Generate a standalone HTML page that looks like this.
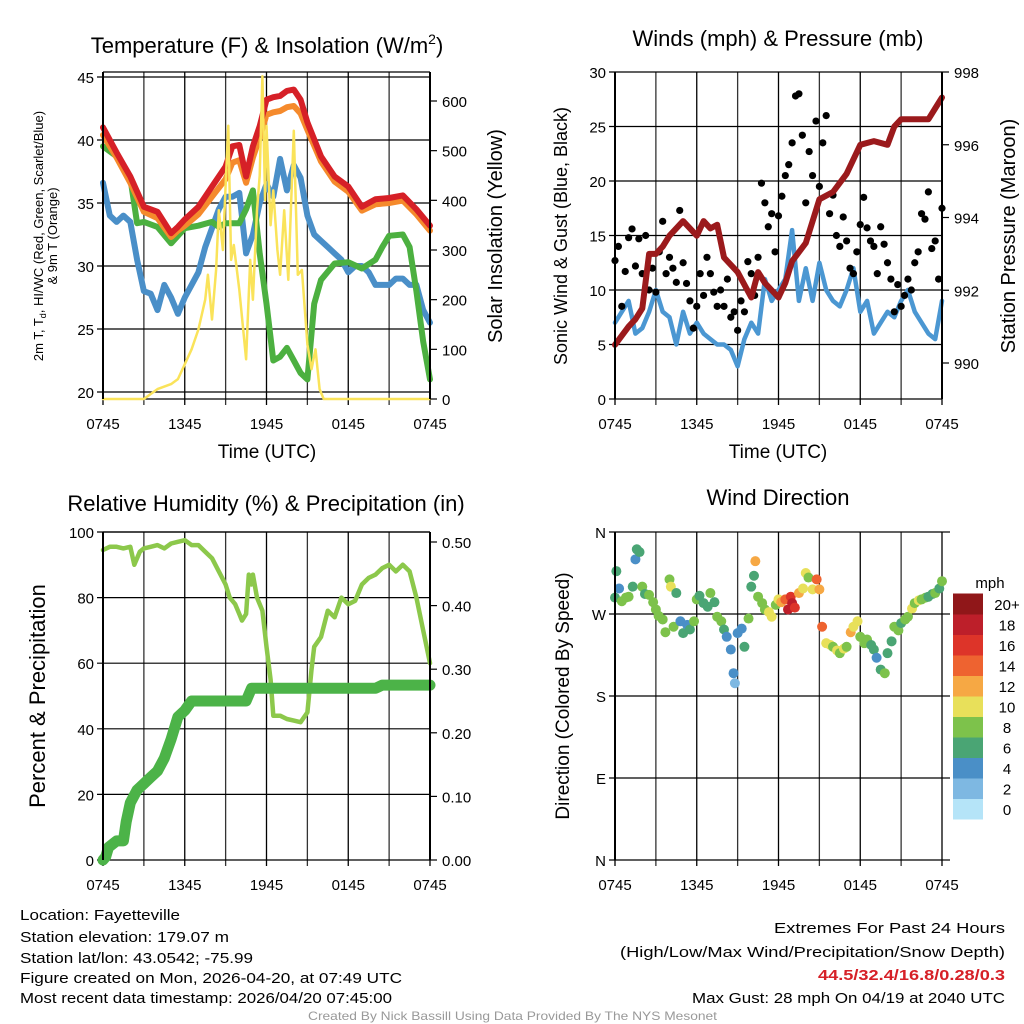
<!DOCTYPE html>
<html><head><meta charset="utf-8"><style>
html,body{margin:0;padding:0;background:#fff}
svg{display:block;font-family:"Liberation Sans",sans-serif}
</style></head><body>
<svg id="fig" width="1024" height="1024" viewBox="0 0 1024 1024" xmlns="http://www.w3.org/2000/svg">
<rect width="1024" height="1024" fill="#fff"/>
<g id="gridlayer"></g>
<g id="datalayer"></g>
<g id="axislayer"></g>
<text x="267" y="53" font-size="22" text-anchor="middle">Temperature (F) &amp; Insolation (W/m<tspan dy="-9" font-size="14">2</tspan><tspan dy="9">)</tspan></text>
<text x="778" y="46" font-size="22" text-anchor="middle">Winds (mph) &amp; Pressure (mb)</text>
<text x="266" y="511" font-size="22" text-anchor="middle">Relative Humidity (%) &amp; Precipitation (in)</text>
<text x="778" y="505" font-size="22" text-anchor="middle">Wind Direction</text>
<text x="267" y="458" font-size="19" text-anchor="middle">Time (UTC)</text>
<text x="778" y="458" font-size="19" text-anchor="middle">Time (UTC)</text>
<text transform="translate(43,236) rotate(-90)" font-size="13" text-anchor="middle">2m T, T<tspan dy="3" font-size="9">d</tspan><tspan dy="-3">, HI/WC (Red, Green, Scarlet/Blue)</tspan></text>
<text transform="translate(57,236) rotate(-90)" font-size="13" text-anchor="middle">&amp; 9m T (Orange)</text>
<text transform="translate(502,236) rotate(-90)" font-size="20" text-anchor="middle">Solar Insolation (Yellow)</text>
<text transform="translate(567,236) rotate(-90)" font-size="18" text-anchor="middle">Sonic Wind &amp; Gust (Blue, Black)</text>
<text transform="translate(1015,236) rotate(-90)" font-size="20" text-anchor="middle">Station Pressure (Maroon)</text>
<text transform="translate(45,696) rotate(-90)" font-size="22" text-anchor="middle">Percent &amp; Precipitation</text>
<text transform="translate(569,696) rotate(-90)" font-size="19" text-anchor="middle">Direction (Colored By Speed)</text>
<g font-size="15">
<text x="20" y="920" textLength="160" lengthAdjust="spacingAndGlyphs">Location: Fayetteville</text>
<text x="20" y="942" textLength="209" lengthAdjust="spacingAndGlyphs">Station elevation: 179.07 m</text>
<text x="20" y="963" textLength="233" lengthAdjust="spacingAndGlyphs">Station lat/lon: 43.0542; -75.99</text>
<text x="20" y="983" textLength="382" lengthAdjust="spacingAndGlyphs">Figure created on Mon, 2026-04-20, at 07:49 UTC</text>
<text x="20" y="1003" textLength="372" lengthAdjust="spacingAndGlyphs">Most recent data timestamp: 2026/04/20 07:45:00</text>
<text x="774" y="933" textLength="231" lengthAdjust="spacingAndGlyphs">Extremes For Past 24 Hours</text>
<text x="620" y="957" textLength="385" lengthAdjust="spacingAndGlyphs">(High/Low/Max Wind/Precipitation/Snow Depth)</text>
<text x="818" y="980" textLength="187" lengthAdjust="spacingAndGlyphs" fill="#d62027" font-weight="bold">44.5/32.4/16.8/0.28/0.3</text>
<text x="692" y="1003" textLength="313" lengthAdjust="spacingAndGlyphs">Max Gust: 28 mph On 04/19 at 2040 UTC</text>
</g>
<text x="308" y="1020" font-size="12" fill="#999" textLength="409" lengthAdjust="spacingAndGlyphs">Created By Nick Bassill Using Data Provided By The NYS Mesonet</text>
</svg>
<script>
// ---------- data ----------
const timeTicks = ["0745","1345","1945","0145","0745"];
const hoursHalf = [0,0.5,1,1.5,2,2.5,3,3.5,4,4.5,5,5.5,6,6.5,7,7.5,8,8.5,9,9.5,10,10.5,11,11.5,12,12.5,13,13.5,14,14.5,15,15.5,16,16.5,17,17.5,18,18.5,19,19.5,20,20.5,21,21.5,22,22.5,23,23.5,24];
const tempHours = [0,1,2,3,4,5,5.5,6,7,8,9,9.5,10,10.5,11,11.5,12,12.5,13,13.5,14,14.5,15,16,17,18,19,20,21,22,23,24];
const tempRed   = [41,39,37.1,34.7,34.3,32.6,33.1,33.7,34.7,36.3,37.9,39.5,39.6,37.1,39.5,41.1,43.2,43.4,43.5,43.9,44,43.2,41.4,38.7,37.1,36.3,34.7,35.3,35.4,35.6,34.5,33.2];
const tempOrange= [40.4,38.6,36.6,34.3,33.8,32.3,32.8,33.2,34.1,35.5,36.9,38.2,38.4,36.6,38.6,40.2,42,42.2,42.3,42.6,42.7,42.1,40.8,38.3,36.7,35.9,34.4,34.9,35,35.2,34.1,32.8];
const dewHours  = [0,1,2,2.5,3,4,5,6,7,8,8.5,9,10,10.5,11,11.5,12,12.5,13,13.5,14,14.5,15,15.5,16,17,18,19,20,20.5,21,22,22.5,23,23.5,24];
const dewGreen  = [39.5,38.7,37,33.4,33.5,33.1,31.8,33,33.2,33.5,33.1,33.4,33.4,34.5,36,31,27,22.5,22.8,23.5,22.5,21.5,21,27,28.9,30.2,30.3,29.8,30.5,31.5,32.4,32.5,31.5,28,24,21];
const chillBlue = [36.6,34,33.5,34,33.5,30.5,28,27.8,26.5,28.5,27.5,26.2,27.5,28.5,29.5,31.5,33,34.5,35.5,35.5,35.8,31,32.5,35,36.5,35.5,38.5,36,38,37,34,32.5,32,31.5,31,30.5,29.5,30,30,29.5,28.5,28.5,28.5,29,29,28.5,28.5,26.5,25.5];
const insolHours = [0,3,3.5,4,5,5.5,6,6.5,7,7.5,7.7,8,8.3,8.5,8.8,9,9.2,9.4,9.6,10,10.5,10.8,11,11.3,11.5,11.7,11.9,12,12.3,12.5,12.8,13,13.3,13.6,14,14.3,14.6,15,15.3,15.6,15.9,16.2,24];
const insolValues= [0,0,10,20,30,40,70,100,140,200,250,160,260,380,300,430,550,280,310,220,80,280,200,380,450,650,400,550,350,420,300,250,380,240,540,250,260,110,60,100,20,0,0];
const windBlue = [7,8,9,6,6.5,8,10,8,7.5,5,8,6,7,6,5.5,5,5,4.5,3,5.5,7,6,11,9,10,11,15.5,9,12,9,12.5,10,9,8.5,10,12,8,9,6,7,8,7.5,9,10,8,7,6,5.5,9];
const pressHours = [0,1,1.5,2,2.5,3,3.5,4,5,6,6.5,7,7.5,8,9,10,10.5,11,12,12.5,13,14,15,16,17,18,19,20,20.5,21,22,23,23.5,24];
const pressure   = [990.5,991,991.2,991.5,993,993,993.2,993.5,993.9,993.5,993.9,993.7,993.8,992.9,992.5,991.8,992.5,992.2,991.8,992.2,992.8,993.3,994.5,994.7,995.2,996,996.1,996,996.5,996.7,996.7,996.7,997,997.3];
const gustValues = [12.7,14,8.5,11.7,14.8,15.6,12.2,14.7,11.5,15,10,12,9.8,13.5,16.3,11.5,13,12,10.7,17.3,12.5,10.6,9,6.5,8.5,11.5,9.5,13,11.5,9.8,8.5,10,8.5,11,7.5,8,6.3,9,8,12.6,11.5,9.5,13,19.8,18,15.8,17,13.5,16.8,18.6,20.5,21.5,23.5,27.8,28,24.2,18,22.7,20.5,25.5,19.5,23.5,26,17,18.7,15,14,16.7,14.5,12,11.5,13.5,16,18.5,15.7,14.5,14,11.5,15.8,14.2,12.5,11,8,10.5,8.5,9.5,11,10,12.5,13.5,17,16.5,19,13.8,14.5,11,17.5];
const rhHours = [0,0.5,1,1.5,2,2.3,2.7,3,3.5,4,4.5,5,5.5,6,6.5,7,7.5,8,8.5,9,9.3,9.7,10,10.2,10.5,10.7,10.9,11,11.3,11.7,12,12.3,12.5,13,13.5,14,14.5,15,15.3,15.5,16,16.5,17,17.5,18,18.5,19,19.5,20,20.5,21,21.5,22,22.5,23,23.5,24];
const rhValues= [94.5,95.5,95.5,95,95.5,90,94,95,95.5,96,95,96.5,97,97.5,96,96,94,92,88,84,80,78,75,73,75,87,84,87,80,76,65,55,44,44,43,42.5,42,45,58,65,68,76,74,80,78,79,84,86,87,89,90,88,90,88,80,70,60];
const precipHours = [0,0.2,0.4,1,1.5,1.7,2,2.5,3,3.5,4,4.5,5,5.5,6,6.5,10.5,10.7,10.9,20,20.5,24];
const precipValues= [0,0.005,0.02,0.03,0.03,0.06,0.09,0.11,0.12,0.13,0.14,0.16,0.19,0.225,0.235,0.25,0.25,0.26,0.27,0.27,0.275,0.275];
const dirHours = [0,0.1,0.3,0.5,0.8,1,1.3,1.5,1.6,1.8,2,2.2,2.5,2.8,3,3.2,3.5,3.7,4,4.1,4.3,4.5,4.8,5,5.3,5.5,5.8,6,6.2,6.5,6.8,7,7.3,7.5,7.8,8,8.2,8.5,8.7,8.8,9,9.3,9.5,9.8,10,10.2,10.3,10.5,10.8,11,11.3,11.5,11.8,12,12.2,12.5,12.7,12.9,13,13.2,13.5,13.8,14,14.2,14.5,14.8,15,15.2,15.5,15.8,16,16.3,16.5,16.8,17,17.3,17.5,17.8,18,18.3,18.5,18.8,19,19.2,19.5,19.8,20,20.3,20.5,20.8,21,21.3,21.5,21.8,22,22.3,22.5,22.8,23,23.3,23.5,23.8,24];
const dirValues= [288,317,298,284,288,289,300,330,341,338,300,292,291,283,275,268,264,250,308,300,256,293,262,249,258,253,262,286,290,282,278,293,283,267,262,253,245,231,205,194,249,254,234,265,300,312,328,289,282,275,272,267,280,286,283,286,275,289,282,277,293,298,315,310,297,308,297,256,238,236,234,230,227,232,234,250,256,262,245,238,242,236,231,222,209,205,227,240,256,252,260,264,267,276,282,285,286,288,289,292,293,298,306];
const dirSpeeds= [6,6,4,7,8,7,6,4,6,6,8,6,7,7,8,8,8,8,8,9,7,5,4,5,4,6,7,8,6,6,5,7,6,8,7,6,4,3,3,1.5,4,4,6,7,6,6,12,8,7,8,9,9,8,10,11,13,17,16,18,15,12,10,10,8,9,13,11,13,9,9,8,10,8,9,8,12,10,9,8,7,7,6,6,4,6,7,6,6,8,8,6,7,8,9,8,10,7,8,6,6,7,6,7];
const cbLabels = ["0","2","4","6","8","10","12","14","16","18","20+"];
const cbColors = ["#b5e4f8","#7eb8e2","#4a8fc7","#4aa574","#7dc24b","#e8e05a","#f6a844","#ee6330","#dd3429","#bd1f2a","#901719"];

// ---------- helpers ----------
const NS="http://www.w3.org/2000/svg";
const grid=document.getElementById('gridlayer'), dl=document.getElementById('datalayer'), al=document.getElementById('axislayer');
function mk(tag,attrs,parent){const e=document.createElementNS(NS,tag);for(const k in attrs)e.setAttribute(k,attrs[k]);parent.appendChild(e);return e;}
function lin(d0,d1,r0,r1){return v=>r0+(v-d0)*(r1-r0)/(d1-d0);}
function pathD(xs,ys,fx,fy){return xs.map((x,i)=>(i?'L':'M')+fx(x).toFixed(1)+','+fy(ys[i]).toFixed(1)).join('');}

function panel(x0,x1,yTop,yBot,ticksY,fy,labelsY,rightTicks,fyR,labelsR,prefix,noRightBorder){
  const fx=lin(0,24,x0,x1);
  for(let h=0;h<=24;h+=3){const l=mk('line',{x1:fx(h),x2:fx(h),y1:yTop,y2:yBot+6,stroke:(h%6? '#333':'#000'),'stroke-width':1.3},grid);
    }
  ticksY.forEach((v,i)=>{const y=fy(v);const l=mk('line',{x1:x0-6,x2:x1,y1:y,y2:y,stroke:'#000','stroke-width':1.2},grid);
    
    const t=mk('text',{x:x0-9,y:y+6,'font-size':15,'text-anchor':'end'},al);t.textContent=labelsY[i];
    });
  if(rightTicks){rightTicks.forEach((v,i)=>{const y=fyR(v);mk('line',{x1:x1,x2:x1+7,y1:y,y2:y,stroke:'#000','stroke-width':1.2},al);
    const t=mk('text',{x:x1+12,y:y+6,'font-size':15},al);t.textContent=labelsR[i];
    });}
  const ax=mk('line',{x1:x0,x2:x0,y1:yTop,y2:yBot,stroke:'#000','stroke-width':2},al);
  
  if(!noRightBorder){const r=mk('line',{x1:x1,x2:x1,y1:yTop,y2:yBot,stroke:'#000','stroke-width':2},al);
    }
  timeTicks.forEach((s,i)=>{const t=mk('text',{x:fx(i*6),y:yBot+30,'font-size':15,'text-anchor':'middle'},al);t.textContent=s;
    });
  return fx;
}
function line(xs,ys,fx,fy,color,w,name){const p=mk('path',{d:pathD(xs,ys,fx,fy),fill:'none',stroke:color,'stroke-width':w,'stroke-linejoin':'round','stroke-linecap':'round'},dl);
  return p;}

// ---------- panel 1: temperature ----------
{const fy=lin(20,45,392,77), fyR=lin(0,600,399,101);
 const fx=panel(103,430,72,399,[20,25,30,35,40,45],fy,["20","25","30","35","40","45"],[0,100,200,300,400,500,600],fyR,["0","100","200","300","400","500","600"],'temp');
 mk('line',{x1:103,x2:430,y1:72,y2:72,stroke:'#000','stroke-width':1.2},grid);
 mk('line',{x1:103,x2:430,y1:399,y2:399,stroke:'#000','stroke-width':1.2},grid);
 line(hoursHalf,chillBlue,fx,fy,'#4a8fc8',6,'wind-chill-line');
 line(dewHours,dewGreen,fx,fy,'#4cb040',6,'dewpoint-line');
 line(tempHours,tempOrange,fx,fy,'#f58a2c',6,'temp-9m-line');
 line(tempHours,tempRed,fx,fy,'#d62027',6,'temp-2m-line');
 line(insolHours,insolValues,fx,fyR,'#fae35a',2.5,'insolation-line');}

// ---------- panel 2: wind & pressure ----------
{const fy=lin(0,30,399,72), fyR=lin(990,998,363,72);
 const fx=panel(615,942,72,399,[0,5,10,15,20,25,30],fy,["0","5","10","15","20","25","30"],[990,992,994,996,998],fyR,["990","992","994","996","998"],'wind');
 line(hoursHalf,windBlue,fx,fy,'#4b97d2',4.5,'sonic-wind-line');
 gustValues.forEach((v,i)=>{const c=mk('circle',{cx:fx(i*0.25),cy:fy(v),r:3.6,fill:'#000'},dl);
   });
 line(pressHours,pressure,fx,fyR,'#9b1a1c',6,'pressure-line');}

// ---------- panel 3: RH & precip ----------
{const fy=lin(0,100,860,532), fyR=lin(0,0.5,860,542);
 const fx=panel(103,430,532,860,[0,20,40,60,80,100],fy,["0","20","40","60","80","100"],[0,0.1,0.2,0.3,0.4,0.5],fyR,["0.00","0.10","0.20","0.30","0.40","0.50"],'rh');
 mk('line',{x1:103,x2:430,y1:532,y2:532,stroke:'#000','stroke-width':1.2},grid);
 line(rhHours,rhValues,fx,fy,'#8cc84b',4.5,'rh-line');
 line(precipHours,precipValues,fx,fyR,'#4cb348',11,'precip-line');}

// ---------- panel 4: wind direction ----------
{const fy=lin(0,360,860,532);
 const fx=panel(615,942,532,860,[0,90,180,270,360],fy,["N","E","S","W","N"],null,null,null,'dir',true);
 [0,90,180,270,360].forEach(v=>mk('line',{x1:942,x2:950,y1:fy(v),y2:fy(v),stroke:'#000','stroke-width':1.2},grid));
 const lab=mk('text',{x:990,y:588,'font-size':15,'text-anchor':'middle'},al);lab.textContent='mph';
 
 const cb0=819, ch=20.5;
 cbColors.forEach((c,i)=>{const r=mk('rect',{x:953,y:cb0-(i+1)*ch,width:30,height:ch+0.5,fill:c},al);
   
   const t=mk('text',{x:1007,y:cb0-(i+0.5)*ch+6,'font-size':15,'text-anchor':'middle'},al);t.textContent=cbLabels[i];
   });
 dirHours.forEach((h,i)=>{const s=dirSpeeds[i];const idx=Math.min(10,Math.max(0,Math.floor((s+1)/2)));
   const c=mk('circle',{cx:fx(h),cy:fy(dirValues[i]),r:5,fill:cbColors[idx]},dl);
   });}
</script>
</body></html>
